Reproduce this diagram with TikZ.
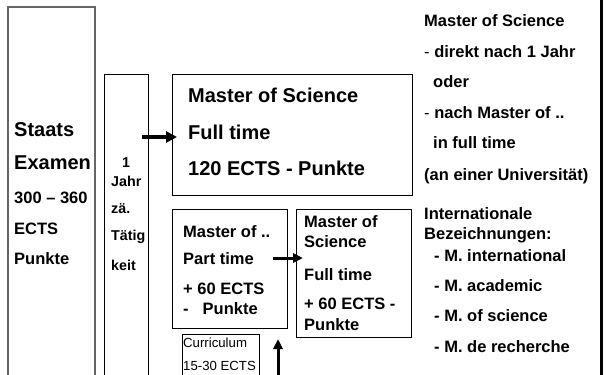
\documentclass[tikz,border=0pt]{standalone}
\usepackage{fontspec}
\setmainfont{Liberation Sans}
\usetikzlibrary{arrows.meta}
\tikzset{
  boxA/.style={draw=black, line width=0.9pt, anchor=north west, inner sep=0pt, outer sep=0pt},
  big/.style={font=\fontsize{20}{22}\selectfont\bfseries, anchor=west, inner sep=0pt},
  mid/.style={font=\fontsize{16.5}{18}\selectfont\bfseries, anchor=west, inner sep=0pt},
  sml/.style={font=\fontsize{14.3}{16}\selectfont\bfseries, anchor=center, inner sep=0pt},
  tiny/.style={font=\fontsize{13.2}{15}\selectfont, anchor=west, inner sep=0pt},
  fat/.style={line width=3.2pt, -{Triangle[length=11pt,width=11pt]}},
  fatsm/.style={line width=3pt, -{Triangle[length=10pt,width=9pt]}},
}
\begin{document}
\begin{tikzpicture}[x=1pt,y=-1pt]
\clip (0,0) rectangle (606,375);
\fill[white] (0,0) rectangle (606,375);
% frames
\node[boxA, draw=black!60, line width=1.3pt, minimum width=87pt, minimum height=375pt] (staats) at (8,7) {};
\node[boxA, minimum width=44pt, minimum height=310pt] (jahr) at (104,74) {};
\node[boxA, minimum width=240pt, minimum height=121pt] (msc) at (172,74) {};
\node[boxA, minimum width=115pt, minimum height=119pt] (mpart) at (172,209) {};
\node[boxA, minimum width=115pt, minimum height=128pt] (mfull) at (296,209) {};
\node[boxA, line width=0.8pt, minimum width=77pt, minimum height=45pt] (curr) at (182,334) {};
\draw[line width=3pt] (601,0) -- (601,375);
% Staats texts
\node[big] (s1) at (14,130) {Staats};
\node[big] (s2) at (14,163) {Examen};
\node[mid] (s3) at (14,198) {300 – 360};
\node[mid] (s4) at (14,229) {ECTS};
\node[mid] (s5) at (14,259) {Punkte};
% Jahr texts
\node[sml] (j1) at (126,163) {1};
\node[sml, anchor=west] (j2) at (111,181) {Jahr};
\node[sml, anchor=west] (j3) at (111,209) {zä.};
\node[sml, anchor=west] (j4) at (111,237) {Tätig};
\node[sml, anchor=west] (j5) at (111,265) {keit};
% Master of Science full time
\node[big] (m1) at (188,95) {Master of Science};
\node[big] (m2) at (188,132) {Full time};
\node[big] (m3) at (188,168) {120 ECTS - Punkte};
% Master of .. part time
\node[mid] (p1) at (183,232) {Master of ..};
\node[mid] (p2) at (183,259) {Part time};
\node[mid] (p3) at (183,289) {+ 60 ECTS};
\node[mid] (p4) at (183,309) {-\hspace{14pt}Punkte};
% Master of Science second
\node[mid] (f1) at (304,222) {Master of};
\node[mid] (f2) at (304,242) {Science};
\node[mid] (f3) at (304,275) {Full time};
\node[mid] (f4) at (304,304) {+ 60 ECTS -};
\node[mid] (f5) at (304,325) {Punkte};
% Curriculum
\node[tiny] (c1) at (183,343) {Curriculum};
\node[tiny] (c2) at (183,366) {15-30 ECTS};
% right text
\node[mid] (r1) at (424,21) {Master of Science};
\node[mid] (r2) at (424,52) {{\mdseries -} direkt nach 1 Jahr};
\node[mid] (r3) at (433,82) {oder};
\node[mid] (r4) at (424,113) {{\mdseries -} nach Master of ..};
\node[mid] (r5) at (433,143) {in full time};
\node[mid] (r6) at (424,176) {(an einer Universität)};
\node[mid] (r7) at (424,214) {Internationale};
\node[mid] (r8) at (424,235) {Bezeichnungen:};
\node[mid] (r9) at (434,256) {- M. international};
\node[mid] (r10) at (434,286) {- M. academic};
\node[mid] (r11) at (434,316) {- M. of science};
\node[mid] (r12) at (434,347) {- M. de recherche};
% arrows
\coordinate (a1s) at (142,137);
\coordinate (a1e) at (177,137);
\coordinate (a2s) at (273,258);
\coordinate (a2e) at (303,258);
\coordinate (a3s) at (278,376);
\coordinate (a3e) at (278,339);
\draw[fat] (a1s) -- (a1e);
\draw[fatsm] (a2s) -- (a2e);
\draw[fatsm] (a3s) -- (a3e);
\end{tikzpicture}
\end{document}
